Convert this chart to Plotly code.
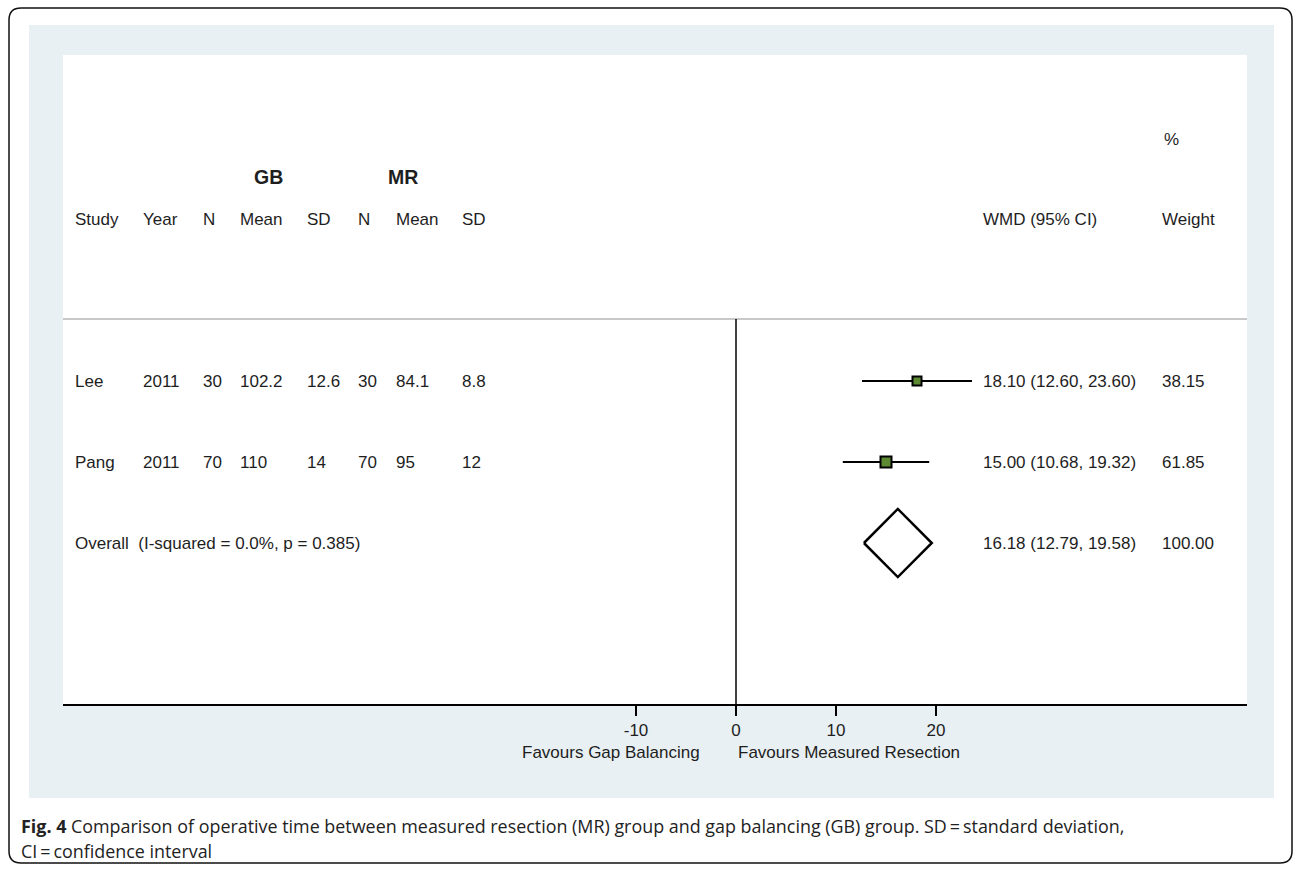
import plotly.graph_objects as go

W, H = 1295, 869

# ---- data ----
studies = ["Lee", "Pang"]
years = [2011, 2011]
gb_n = [30, 70]
gb_mean = [102.2, 110]
gb_sd = [12.6, 14]
mr_n = [30, 70]
mr_mean = [84.1, 95]
mr_sd = [8.8, 12]
wmd = [18.10, 15.00]
ci_low = [12.60, 10.68]
ci_high = [23.60, 19.32]
weights = [38.15, 61.85]
overall_label = "Overall  (I-squared = 0.0%, p = 0.385)"
overall_wmd = 16.18
overall_low = 12.79
overall_high = 19.58
overall_weight = 100.00
tick_vals = [-10, 0, 10, 20]
tick_text = [str(v) for v in tick_vals]
left_label = "Favours Gap Balancing"
right_label = "Favours Measured Resection"
caption1 = "<b>Fig. 4</b> Comparison of operative time between measured resection (MR) group and gap balancing (GB) group. SD\u2009=\u2009standard deviation,"
caption2 = "CI\u2009=\u2009confidence interval"

# ---- layout helpers ----
def px(x):
    return x / W

def py(y):
    return 1 - y / H

FONT = "Liberation Sans, Arial, sans-serif"
FS = 17
TXT = "#1e1e1e"

rows = [1, 2]
overall_row = 3

fig = go.Figure()

# CI lines and boxes
marker_sizes = [9, 11]
for i in range(len(studies)):
    fig.add_trace(go.Scatter(x=[ci_low[i], ci_high[i]], y=[rows[i], rows[i]], mode="lines",
                             line=dict(color="black", width=2), hoverinfo="skip", showlegend=False))
    fig.add_trace(go.Scatter(x=[wmd[i]], y=[rows[i]], mode="markers",
                             marker=dict(symbol="square", size=marker_sizes[i], color="#5b8a32",
                                         line=dict(color="black", width=2)),
                             showlegend=False))

# diamond
dh = 0.42
fig.add_trace(go.Scatter(x=[overall_low, overall_wmd, overall_high, overall_wmd, overall_low],
                         y=[overall_row, overall_row - dh, overall_row, overall_row + dh, overall_row],
                         mode="lines", line=dict(color="black", width=2.5), fill="toself",
                         fillcolor="white", showlegend=False))

ann = []
def add(text, x, y, yref="paper", xanchor="left", size=FS, bold=False, color=TXT, family=FONT):
    ann.append(dict(text=("<b>%s</b>" % text) if bold else text, x=px(x), xref="paper",
                    y=y if yref != "paper" else py(y), yref=yref, xanchor=xanchor,
                    yanchor="middle", showarrow=False,
                    font=dict(family=family, size=size, color=color)))

# headers
add("GB", 252, 177, bold=True, size=19.5)
add("MR", 386, 177, bold=True, size=19.5)
add("%", 1162, 139)
cols = [73, 141, 201, 238, 305, 356, 394, 460]
heads = ["Study", "Year", "N", "Mean", "SD", "N", "Mean", "SD"]
for c, h in zip(cols, heads):
    add(h, c, 219)
add("WMD (95% CI)", 981, 219)
add("Weight", 1160, 219)

def fmt(v):
    return "%g" % v

for i in range(len(studies)):
    vals = [studies[i], str(years[i]), str(gb_n[i]), fmt(gb_mean[i]), fmt(gb_sd[i]),
            str(mr_n[i]), fmt(mr_mean[i]), fmt(mr_sd[i])]
    for c, v in zip(cols, vals):
        add(v, c, rows[i], yref="y")
    add("%.2f (%.2f, %.2f)" % (wmd[i], ci_low[i], ci_high[i]), 981, rows[i], yref="y")
    add("%.2f" % weights[i], 1160, rows[i], yref="y")

add(overall_label, 73, overall_row, yref="y")
add("%.2f (%.2f, %.2f)" % (overall_wmd, overall_low, overall_high), 981, overall_row, yref="y")
add("%.2f" % overall_weight, 1160, overall_row, yref="y")

add(left_label, 702, 752, xanchor="right")
add(right_label, 736, 752)

CAPF = "Open Sans, Noto Sans, sans-serif"
add(caption1, 19, 826, size=17.9, family=CAPF, color="#222")
add(caption2, 19, 851, size=17.9, family=CAPF, color="#222")

# shapes
rx, ry = 12 / W, 12 / H
x0, x1, y0, y1 = px(9), px(1292), py(863), py(8)
path = (f"M {x0+rx},{y1} L {x1-rx},{y1} Q {x1},{y1} {x1},{y1-ry} L {x1},{y0+ry} "
        f"Q {x1},{y0} {x1-rx},{y0} L {x0+rx},{y0} Q {x0},{y0} {x0},{y0+ry} "
        f"L {x0},{y1-ry} Q {x0},{y1} {x0+rx},{y1} Z")
shapes = [
    dict(type="path", path=path, xref="paper", yref="paper", line=dict(color="#111", width=1.5),
         fillcolor="white", layer="below"),
    dict(type="rect", xref="paper", yref="paper", x0=px(29), x1=px(1274), y0=py(798), y1=py(25),
         fillcolor="#e8f0f3", line=dict(width=0), layer="below"),
    dict(type="rect", xref="paper", yref="paper", x0=px(63), x1=px(1247), y0=py(704), y1=py(55),
         fillcolor="white", line=dict(width=0), layer="below"),
    dict(type="line", xref="paper", yref="paper", x0=px(63), x1=px(1247), y0=py(319), y1=py(319),
         line=dict(color="#c8c8c8", width=2)),
    dict(type="line", xref="x", yref="paper", x0=0, x1=0, y0=py(704), y1=py(319),
         line=dict(color="black", width=1.5)),
]

# axis ranges mapped from plot geometry: x=0 at px 736, 10 units per 100 px
xr = [(63 - 736) / 10, (1247 - 736) / 10]
yr = [1 + (704 - 381) / 81, 1 + (55 - 381) / 81]

fig.update_layout(
    width=W, height=H, margin=dict(l=0, r=0, t=0, b=0),
    paper_bgcolor="white", plot_bgcolor="rgba(0,0,0,0)",
    shapes=shapes, annotations=ann, showlegend=False,
    xaxis=dict(domain=[px(63), px(1247)], range=xr, showgrid=False, zeroline=False,
               showline=True, linecolor="black", linewidth=1.5, ticks="outside", ticklen=10,
               tickwidth=1.5, tickcolor="black", tickvals=tick_vals, ticktext=tick_text,
               tickfont=dict(family=FONT, size=FS, color=TXT), fixedrange=True),
    yaxis=dict(domain=[py(704), py(55)], range=yr, visible=False, fixedrange=True),
)

fig.write_html("out.html", config={"displayModeBar": False},
               post_script="document.body.style.margin='0';document.body.style.overflow='hidden';")
